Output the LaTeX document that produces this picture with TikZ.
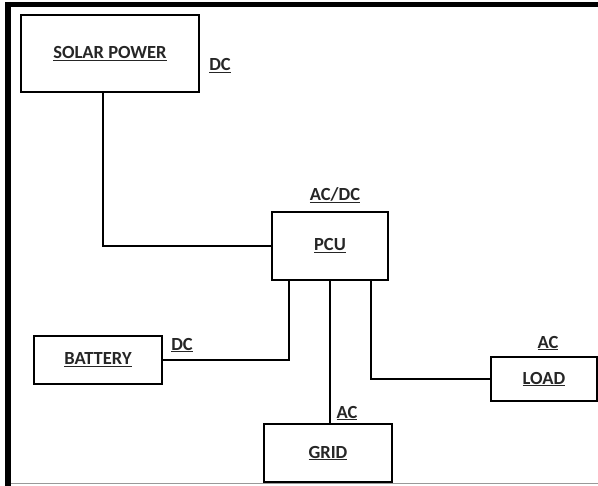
\documentclass[tikz,border=0pt]{standalone}
\usepackage{fontspec}
\setmainfont{Carlito}
\usepackage{tikz}
\usetikzlibrary{positioning, calc}

\newcommand{\ullabel}[1]{\fontsize{18.5}{22}\selectfont\bfseries\underline{#1}}

\tikzset{
  blockbox/.style={draw, line width=2pt, inner sep=0pt, text=black!85},
  wire/.style={line width=1.8pt},
  tag/.style={inner sep=0pt, text=black!85}
}

\begin{document}
\begin{tikzpicture}[x=1pt, y=-1pt]
  \useasboundingbox (0,0) rectangle (598,486);
  % frame
  \draw[line width=5pt] (5,4.5) -- (598,4.5);
  \draw[line width=6pt] (8,2) -- (8,486);
  \draw[line width=1.5pt, black!40] (11,483.5) -- (598,483.5);

  % blocks
  \node[blockbox, minimum width=178pt, minimum height=77pt] (solar) at (110,53.5) {\ullabel{SOLAR POWER}};
  \node[blockbox, minimum width=116pt, minimum height=68pt] (pcu) at (330,246) {\ullabel{PCU}};
  \node[blockbox, minimum width=128pt, minimum height=48pt] (battery) at (98,360) {\ullabel{BATTERY}};
  \node[blockbox, minimum width=128pt, minimum height=58pt] (grid) at (328,453) {\ullabel{GRID}};
  \node[blockbox, minimum width=106pt, minimum height=44pt] (load) at (544,379) {\ullabel{LOAD}};

  % tags
  \node[tag] (dcsolar) at (220,66) {\ullabel{DC}};
  \node[tag] (acdc) at (335,195) {\ullabel{AC/DC}};
  \node[tag] (dcbatt) at (182,345) {\ullabel{DC}};
  \node[tag] (acgrid) at (347,413) {\ullabel{AC}};
  \node[tag] (acload) at (548,343) {\ullabel{AC}};

  % wires
  \draw[wire] ([xshift=-7pt]solar.south) |- (pcu.west);
  \draw[wire] (battery.east) -| ([xshift=-41pt]pcu.south);
  \draw[wire] (pcu.south) -- (pcu.south |- grid.north);
  \draw[wire] ([xshift=41pt]pcu.south) |- (load.west);
\end{tikzpicture}
\end{document}
